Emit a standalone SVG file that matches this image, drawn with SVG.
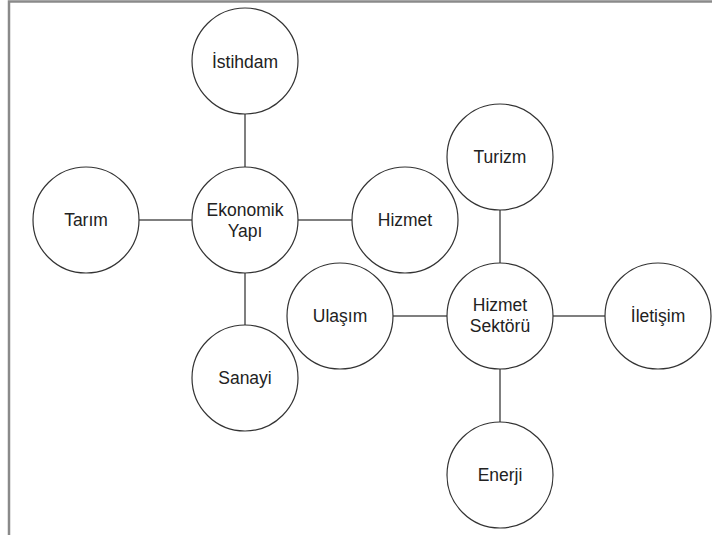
<svg xmlns="http://www.w3.org/2000/svg" width="712" height="535" viewBox="0 0 712 535">
<style>
.n circle{fill:#fff;stroke:#333;stroke-width:1.2}
.n text{font-family:"Liberation Sans",Arial,sans-serif;font-size:17.5px;fill:#222;text-anchor:middle}
#connectors line{stroke:#555;stroke-width:1.5}
</style>
<rect x="0" y="0" width="712" height="535" fill="#fff"/>
<path d="M9,535 V1.5 H712" fill="none" stroke="#8a8a8a" stroke-width="2.5"/>
<g id="connectors">
<line x1="245" y1="114" x2="245" y2="167"/>
<line x1="245" y1="273" x2="245" y2="325"/>
<line x1="139" y1="220" x2="192" y2="220"/>
<line x1="298" y1="220" x2="352" y2="220"/>
<line x1="500" y1="210" x2="500" y2="263"/>
<line x1="500" y1="369" x2="500" y2="422"/>
<line x1="393" y1="316" x2="447" y2="316"/>
<line x1="553" y1="316" x2="605" y2="316"/>
</g>
<g id="istihdam" class="n"><circle cx="245" cy="61" r="53"/><text x="245" y="68">İstihdam</text></g>
<g id="ekonomik" class="n"><circle cx="245" cy="220" r="53"/><text x="245" y="215.5">Ekonomik</text><text x="245" y="236.5">Yapı</text></g>
<g id="tarim" class="n"><circle cx="86" cy="220" r="53"/><text x="86" y="226">Tarım</text></g>
<g id="hizmet" class="n"><circle cx="405" cy="220" r="53"/><text x="405" y="226">Hizmet</text></g>
<g id="sanayi" class="n"><circle cx="245" cy="378" r="53"/><text x="245" y="384">Sanayi</text></g>
<g id="turizm" class="n"><circle cx="500" cy="157" r="53"/><text x="500" y="163">Turizm</text></g>
<g id="hizmetsektoru" class="n"><circle cx="500" cy="316" r="53"/><text x="500" y="311">Hizmet</text><text x="500" y="332">Sektörü</text></g>
<g id="ulasim" class="n"><circle cx="340" cy="316" r="53"/><text x="340" y="322">Ulaşım</text></g>
<g id="iletisim" class="n"><circle cx="658" cy="316" r="53"/><text x="658" y="322">İletişim</text></g>
<g id="enerji" class="n"><circle cx="500" cy="475" r="53"/><text x="500" y="481">Enerji</text></g>
</svg>
